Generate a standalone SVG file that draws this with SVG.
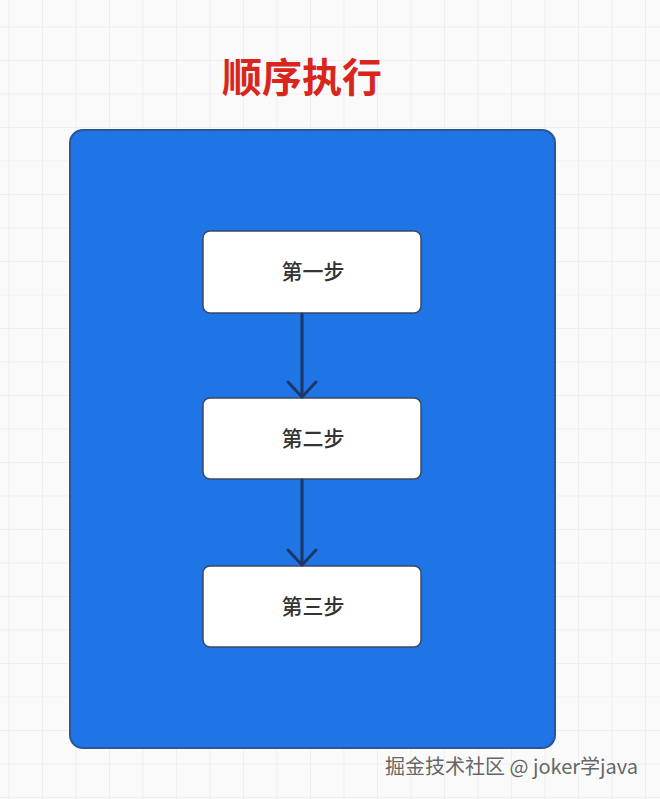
<svg xmlns="http://www.w3.org/2000/svg" width="660" height="799" viewBox="0 0 660 799">
<defs>
<pattern id="grid" x="8.5" y="-7" width="33.5" height="33.5" patternUnits="userSpaceOnUse">
<path d="M0 0H33.5M0 0V33.5" fill="none" stroke="#ececec" stroke-width="1.5"/>
</pattern>
</defs>
<style>
.step{fill:#ffffff;stroke:#3a4a66;stroke-width:1.5}
.lbl{font-family:"Noto Sans CJK SC","Liberation Sans",sans-serif;font-size:21px;font-weight:500;fill:#333333;text-anchor:middle}
.conn{fill:none;stroke:#1b3766;stroke-width:3;stroke-linecap:round;stroke-linejoin:round}
</style>
<rect width="660" height="799" fill="#fafafa"/>
<rect width="660" height="799" fill="url(#grid)"/>
<text x="302" y="92" font-family="Noto Sans CJK SC,sans-serif" font-size="40" font-weight="bold" fill="#d9261c" text-anchor="middle">顺序执行</text>
<g id="container">
<rect x="70" y="130" width="485" height="618" rx="13" fill="#1f74e6" stroke="#2b5597" stroke-width="2"/>
</g>
<g id="step1">
<rect class="step" x="203" y="231" width="218" height="82" rx="7"/>
<text class="lbl" x="313" y="279">第一步</text>
</g>
<g id="step2">
<rect class="step" x="203" y="398" width="218" height="81" rx="7"/>
<text class="lbl" x="313" y="446">第二步</text>
</g>
<g id="step3">
<rect class="step" x="203" y="566" width="218" height="81" rx="7"/>
<text class="lbl" x="313" y="614">第三步</text>
</g>
<g id="connectors">
<path class="conn" d="M302 314V397M288 382L302 397L316 382"/>
<path class="conn" d="M302 480V565M288 550L302 565L316 550"/>
</g>
<text x="385" y="774" font-family="Noto Sans CJK SC,sans-serif" font-size="20" fill="#666666" stroke="#ffffff" stroke-width="0.6" paint-order="stroke">掘金技术社区 @ joker学java</text>
</svg>
